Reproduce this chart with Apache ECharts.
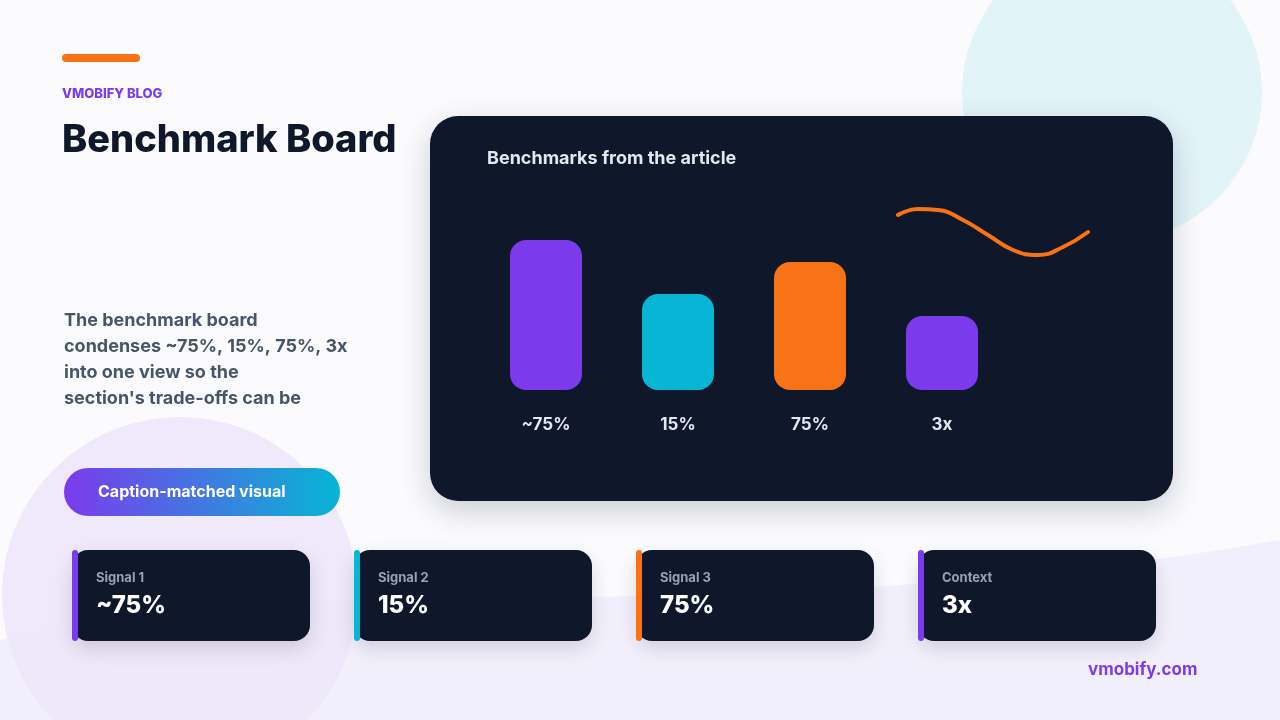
<!DOCTYPE html><html><head><meta charset="utf-8"><script src="https://cdn.jsdelivr.net/npm/echarts@6/dist/echarts.min.js"></script>
<style>html,body{margin:0;padding:0;background:#fbfbfe}#c{width:1280px;height:720px}</style></head><body><div id="c"></div><script>
const categories=['~75%','15%','75%','3x'];
const barValues=[150,96,128,74];
const barColors=['#7c3aed','#06b6d4','#f97316','#7c3aed'];
const waveX=[0,20,40,65,90,115,140,165,190];
const waveY=[40,46,45,35,20,5,0,8,23];
const cardLabels=['Signal 1','Signal 2','Signal 3','Context'];
const cardValues=['~75%','15%','75%','3x'];
const cardColors=['#7c3aed','#06b6d4','#f97316','#7c3aed'];
const F='Inter, "Noto Sans", sans-serif';
const wavePts=[];
for(let t=0;t<=1.0001;t+=0.02){const u=1-t;
 const x=u*u*u*0+3*u*u*t*300+3*u*t*t*700+t*t*t*1280;
 const y=u*u*u*640+3*u*u*t*560+3*u*t*t*640+t*t*t*540;wavePts.push([x,y]);}
wavePts.push([1280,720],[0,720]);
const g=[
 {type:'circle',shape:{cx:1112,cy:92,r:150},style:{fill:'#e3f4f9'},z:-10},
 {type:'circle',shape:{cx:180,cy:595,r:178},style:{fill:'#efe9fb'},z:-10},
 {type:'polygon',shape:{points:wavePts},style:{fill:'rgba(237,232,250,0.6)'},z:-9},
 {type:'rect',shape:{x:62,y:54,width:78,height:8,r:4},style:{fill:'#f97316'}},
 {type:'text',left:62,top:88,style:{text:'VMOBIFY BLOG',font:'800 13px '+F,fill:'#7c3aed'}},
 {type:'text',left:62,top:122,style:{text:'Benchmark Board',font:'800 38px '+F,fill:'#0f172a'}},
 {type:'text',left:64,top:308,style:{text:"The benchmark board\ncondenses ~75%, 15%, 75%, 3x\ninto one view so the\nsection's trade-offs can be",font:'700 18px '+F,fill:'#475569',lineHeight:26}},
 {type:'rect',shape:{x:64,y:468,width:276,height:48,r:24},style:{fill:new echarts.graphic.LinearGradient(0,0,1,0,[{offset:0,color:'#7c3aed'},{offset:1,color:'#06b6d4'}])}},
 {type:'text',left:98,top:484,style:{text:'Caption-matched visual',font:'700 16px '+F,fill:'#fff'}},
 {type:'rect',shape:{x:430,y:116,width:743,height:385,r:28},style:{fill:'#0f172a',shadowBlur:30,shadowColor:'rgba(15,23,42,0.2)',shadowOffsetY:10},z:-1},
 {type:'text',left:487,top:150,style:{text:'Benchmarks from the article',font:'700 18px '+F,fill:'#e2e8f0'}},
 {type:'text',left:1088,top:661,style:{text:'vmobify.com',font:'700 17px '+F,fill:'#7c3aed'}}
];
cardLabels.forEach((l,i)=>{const x=72+282*i;
 g.push({type:'rect',shape:{x:x,y:550,width:238,height:91,r:16},style:{fill:'#0f172a',shadowBlur:20,shadowColor:'rgba(15,23,42,0.15)',shadowOffsetY:8}});
 g.push({type:'rect',shape:{x:x,y:550,width:6,height:91,r:3},style:{fill:cardColors[i]}});
 g.push({type:'text',left:x+24,top:572,style:{text:l,font:'700 13px '+F,fill:'#94a3b8'}});
 g.push({type:'text',left:x+24,top:594,style:{text:cardValues[i],font:'800 24px '+F,fill:'#fff'}});
});
const ch=echarts.init(document.getElementById('c'));
ch.setOption({animation:false,graphic:g,
 grid:[{left:480,top:240,width:528,height:150},{left:898,top:205,width:190,height:50}],
 xAxis:[{type:'category',data:categories,gridIndex:0,axisLine:{show:false},axisTick:{show:false},axisLabel:{color:'#e2e8f0',fontFamily:F,fontWeight:700,fontSize:17,margin:26}},
  {type:'value',gridIndex:1,min:0,max:190,show:false}],
 yAxis:[{type:'value',gridIndex:0,min:0,max:150,show:false,splitLine:{show:false}},{type:'value',gridIndex:1,min:0,max:50,show:false,splitLine:{show:false}}],
 series:[{type:'bar',data:barValues.map((v,i)=>({value:v,itemStyle:{color:barColors[i]}})),barWidth:72,itemStyle:{borderRadius:16}},
  {type:'line',xAxisIndex:1,yAxisIndex:1,data:waveX.map((x,i)=>[x,waveY[i]]),smooth:true,symbol:'none',lineStyle:{color:'#f97316',width:4,cap:'round'}}]
});
</script></body></html>
